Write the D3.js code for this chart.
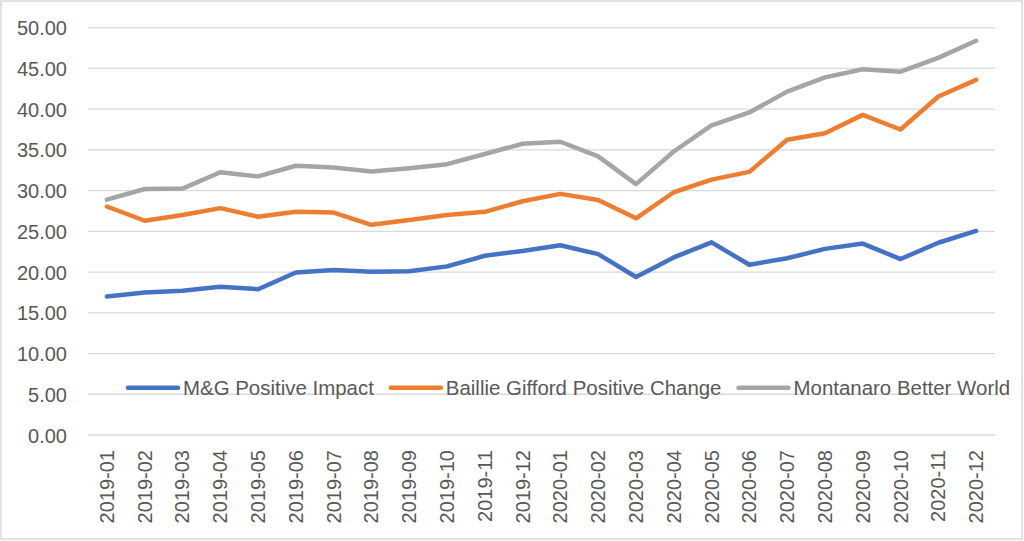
<!DOCTYPE html>
<html>
<head>
    <meta charset="utf-8" />
    <title>Positive impact funds</title>
    <style>
        body { margin: 0; background-color: white; }
        text { font-family: "Liberation Sans", Arial, sans-serif; font-size: 20px; fill: #595959; }
        .legend text { font-size: 20.45px; }
    </style>
    <script src="https://cdnjs.cloudflare.com/ajax/libs/d3/7.8.5/d3.min.js"></script>
</head>
<body>
    <script>
        var months = ['2019-01','2019-02','2019-03','2019-04','2019-05','2019-06','2019-07','2019-08',
                      '2019-09','2019-10','2019-11','2019-12','2020-01','2020-02','2020-03','2020-04',
                      '2020-05','2020-06','2020-07','2020-08','2020-09','2020-10','2020-11','2020-12'];

        var mgPositiveImpact = [17.0, 17.5, 17.7, 18.2, 17.9, 19.95, 20.25, 20.05, 20.1, 20.7, 22.0, 22.6,
                                23.3, 22.2, 19.4, 21.8, 23.65, 20.9, 21.7, 22.85, 23.5, 21.6, 23.6, 25.05];
        var bgPositiveChange = [28.05, 26.3, 27.0, 27.85, 26.8, 27.4, 27.3, 25.8, 26.4, 27.0, 27.4, 28.7,
                                29.6, 28.85, 26.6, 29.8, 31.35, 32.3, 36.25, 37.05, 39.3, 37.5, 41.55, 43.6];
        var montanaroBetterWorld = [28.9, 30.2, 30.25, 32.25, 31.75, 33.05, 32.85, 32.35, 32.75, 33.25, 34.5, 35.75,
                                    36.0, 34.2, 30.8, 34.8, 38.0, 39.6, 42.15, 43.9, 44.9, 44.6, 46.3, 48.4];

        var seriesNames = ['M&G Positive Impact', 'Baillie Gifford Positive Change', 'Montanaro Better World'];
        var seriesColors = ['#4472C4', '#ED7D31', '#A5A5A5'];
        var yTicks = [0, 5, 10, 15, 20, 25, 30, 35, 40, 45, 50];

        var width = 1024, height = 541;
        var margin = { left: 88, right: 29, top: 27.7, bottom: 106 };

        var svg = d3.select("body").append("svg")
                    .attr("width", width)
                    .attr("height", height);

        // chart border
        svg.append("rect")
           .attr("x", 1).attr("y", 1)
           .attr("width", width - 3).attr("height", height - 3)
           .attr("fill", "white")
           .attr("stroke", "#d9d9d9")
           .attr("stroke-width", 1.5);

        var x = d3.scalePoint()
                  .domain(months)
                  .range([margin.left, width - margin.right])
                  .padding(0.5);

        var y = d3.scaleLinear()
                  .domain([0, 50])
                  .range([height - margin.bottom, margin.top]);

        // gridlines
        svg.append("g")
           .selectAll("line")
           .data(yTicks)
           .join("line")
           .attr("x1", margin.left)
           .attr("x2", width - margin.right)
           .attr("y1", d => y(d))
           .attr("y2", d => y(d))
           .attr("stroke", "#d9d9d9")
           .attr("stroke-width", 1.3);

        // y axis labels
        var yAxis = svg.append("g")
                       .attr("transform", "translate(" + (margin.left - 21) + ",0)")
                       .call(d3.axisLeft(y).tickValues(yTicks).tickFormat(d3.format(".2f")).tickSize(0).tickPadding(0));
        yAxis.select(".domain").remove();
        yAxis.selectAll("text")
             .attr("font-family", null).attr("font-size", null)
             .attr("dy", "0.35em")
             .style("fill", "#595959");

        // x axis labels, rotated
        svg.append("g")
           .selectAll("text")
           .data(months)
           .join("text")
           .attr("text-anchor", "end")
           .attr("dy", "0.35em")
           .attr("transform", d => "translate(" + x(d) + "," + (height - margin.bottom + 15) + ") rotate(-90)")
           .text(d => d);

        // lines
        var allSeries = [mgPositiveImpact, bgPositiveChange, montanaroBetterWorld];
        var line = d3.line()
                     .x((d, i) => x(months[i]))
                     .y(d => y(d));

        svg.append("g")
           .selectAll("path")
           .data(allSeries)
           .join("path")
           .attr("d", d => line(d))
           .attr("fill", "none")
           .attr("stroke", (d, i) => seriesColors[i])
           .attr("stroke-width", 4.5)
           .attr("stroke-linejoin", "round")
           .attr("stroke-linecap", "round");

        // legend
        var legend = svg.append("g").attr("class", "legend");
        var lx = 128, ly = 387.7;
        seriesNames.forEach(function(name, i) {
            legend.append("line")
                  .attr("x1", lx).attr("x2", lx + 50)
                  .attr("y1", ly).attr("y2", ly)
                  .attr("stroke", seriesColors[i])
                  .attr("stroke-width", 4.5)
                  .attr("stroke-linecap", "round");
            var t = legend.append("text")
                          .attr("x", lx + 55)
                          .attr("y", ly + 7.3)
                          .text(name);
            lx += 55 + t.node().getComputedTextLength() + 17;
        });
    </script>
</body>
</html>
